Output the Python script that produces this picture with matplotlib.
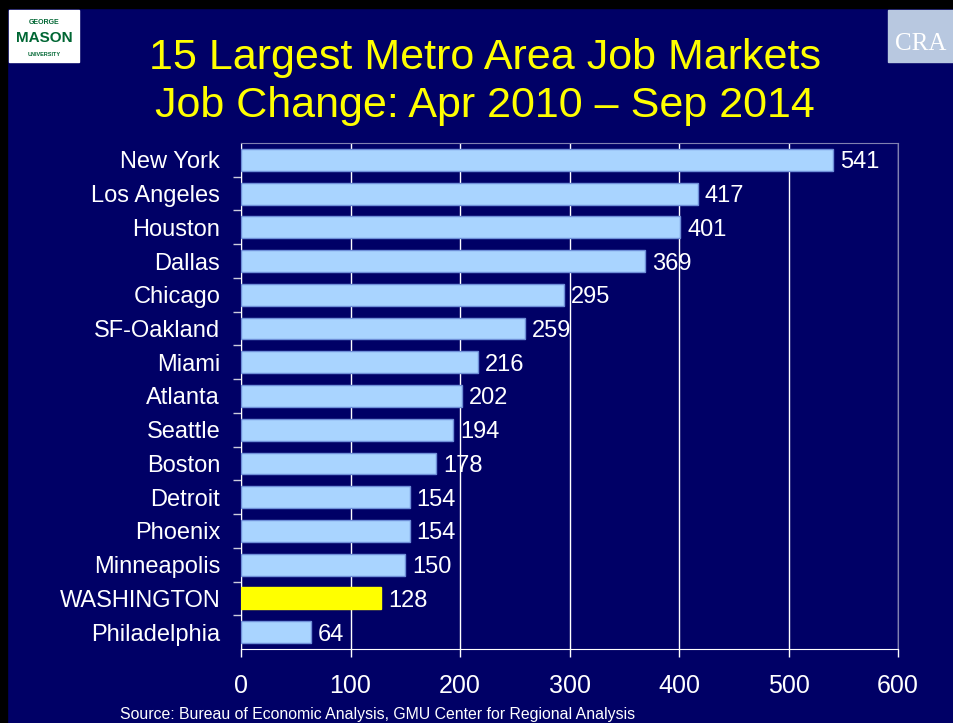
import matplotlib.pyplot as plt
from matplotlib.patches import Rectangle

plt.rcParams['font.family'] = ['Liberation Sans', 'DejaVu Sans']

metros = ["New York", "Los Angeles", "Houston", "Dallas", "Chicago", "SF-Oakland",
          "Miami", "Atlanta", "Seattle", "Boston", "Detroit", "Phoenix",
          "Minneapolis", "WASHINGTON", "Philadelphia"]
jobs = [541, 417, 401, 369, 295, 259, 216, 202, 194, 178, 154, 154, 150, 128, 64]
highlight = "WASHINGTON"
xticks = [0, 100, 200, 300, 400, 500, 600]

navy = "#000066"
fig = plt.figure(figsize=(9.54, 7.23), dpi=100, facecolor=navy)

# slide edge
fig.patches.append(Rectangle((0, 0), 7 / 954, 1, transform=fig.transFigure, color="black", zorder=5))
fig.patches.append(Rectangle((0, 1 - 8 / 723), 1, 8 / 723, transform=fig.transFigure, color="black", zorder=5))

ax = fig.add_axes([241 / 954, 1 - 649 / 723, 657 / 954, 506 / 723])
ax.set_facecolor(navy)

ypos = list(range(len(metros)))
colors = ["#ffff00" if m == highlight else "#a9d4ff" for m in metros]
edges = ["#ffff00" if m == highlight else "#6f8fd8" for m in metros]
ax.barh(ypos, jobs, height=0.65, color=colors, edgecolor=edges, linewidth=1, zorder=3)
for y, v in zip(ypos, jobs):
    ax.annotate(str(v), (v, y), xytext=(7, 0), textcoords="offset pixels", color="white",
                fontsize=17, va="center_baseline", ha="left", zorder=4)

ax.set_xlim(0, 600)
ax.set_ylim(len(metros) - 0.5, -0.5)
ax.set_xticks(xticks)
ax.set_xticklabels([str(t) for t in xticks], color="white", fontsize=18)
ax.set_yticks(ypos)
ax.set_yticklabels(metros, color="white", fontsize=17, va="center_baseline")
ax.tick_params(axis="y", length=0, pad=15)
ax.set_yticks([y + 0.5 for y in ypos[:-1]], minor=True)
ax.tick_params(axis="y", which="minor", length=6, color="#ccccdd", width=1)
ax.tick_params(axis="x", length=6, color="white", width=1, pad=12)
ax.grid(axis="x", color="white", linewidth=1, zorder=1)
for s in ["top", "right"]:
    ax.spines[s].set_color("#8080b0")
ax.spines["left"].set_color("white")
ax.spines["bottom"].set_color("white")

fig.text(0.508, 1 - 58 / 723, "15 Largest Metro Area Job Markets", color="#ffff00",
         fontsize=31, ha="center", va="center")
fig.text(0.508, 1 - 106 / 723, "Job Change: Apr 2010 \u2013 Sep 2014", color="#ffff00",
         fontsize=31, ha="center", va="center")
fig.text(120 / 954, 1 - 715 / 723, "Source: Bureau of Economic Analysis, GMU Center for Regional Analysis",
         color="white", fontsize=11.4, ha="left", va="center")

# logo placeholders
fig.patches.append(Rectangle((9 / 954, 1 - 62 / 723), 70 / 954, 52 / 723, transform=fig.transFigure,
                             color="white", zorder=6))
fig.text(44 / 954, 1 - 22 / 723, "GEORGE", color="#006633", fontsize=5, ha="center", va="center",
         weight="bold", zorder=7)
fig.text(44 / 954, 1 - 38 / 723, "MASON", color="#006633", fontsize=11, ha="center", va="center",
         weight="bold", zorder=7)
fig.text(44 / 954, 1 - 54 / 723, "UNIVERSITY", color="#006633", fontsize=4, ha="center", va="center",
         weight="bold", zorder=7)
fig.patches.append(Rectangle((888 / 954, 1 - 62 / 723), 66 / 954, 52 / 723, transform=fig.transFigure,
                             color="#b8c8e0", zorder=6))
fig.text(921 / 954, 1 - 44 / 723, "CRA", color="white", fontsize=18, ha="center", va="center",
         family="Liberation Serif", zorder=7)

fig.savefig("out.png", dpi=100, facecolor=navy)
